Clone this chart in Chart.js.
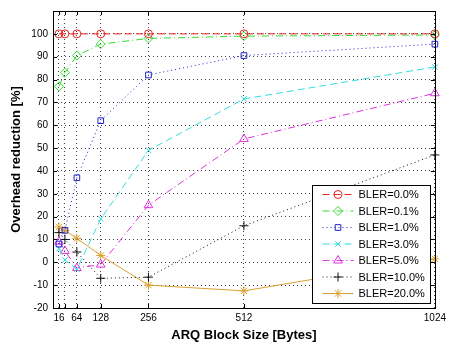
<!DOCTYPE html>
<html>
<head>
<meta charset="utf-8">
<script src="https://cdn.jsdelivr.net/npm/chart.js@4/dist/chart.umd.min.js"></script>
<style>
    html, body { margin: 0; padding: 0; background: #fff; }
    #wrap { width: 450px; height: 346px; }
</style>
</head>
<body>
<div id="wrap"><canvas id="chart" width="450" height="346"></canvas></div>
<script>
// ARQ block sizes (x) and overhead reduction values (%) per BLER
const blockSizes = [16, 32, 64, 128, 256, 512, 1024];
const bler00 = [100, 100, 100, 100, 100, 100, 100];
const bler01 = [77, 83, 90.5, 95.5, 98, 99, 99.5];
const bler1 = [8, 14, 37, 62, 82, 90.5, 95.5];
const bler3 = [6, 1, -3, 19, 49, 71.5, 85.5];
const bler5 = [9, 5, -2.5, -1, 25, 54, 74];
const bler10 = [13, 10, 4.5, -7, -6.5, 16, 47];
const bler20 = [15.5, 14, 10.5, 3, -10, -12.5, 1.5];
const seriesLabels = ['BLER=0.0%', 'BLER=0.1%', 'BLER=1.0%', 'BLER=3.0%', 'BLER=5.0%', 'BLER=10.0%', 'BLER=20.0%'];
const xTicks = [16, 32, 64, 128, 256, 512, 1024];
const xTickLabels = ['16', '', '64', '128', '256', '512', '1024'];

const seriesData = [bler00, bler01, bler1, bler3, bler5, bler10, bler20];
const styles = [
    { color: '#ee2222', dash: [7, 4], point: 'circle', radius: 4 },
    { color: '#33dd33', dash: [7, 3, 1, 3], point: 'rectRot', radius: 4.5 },
    { color: '#2222cc', dash: [1, 3], point: 'rect', radius: 4 },
    { color: '#33dddd', dash: [7, 4], point: 'crossRot', radius: 4 },
    { color: '#dd33dd', dash: [7, 3, 1, 3], point: 'triangle', radius: 5 },
    { color: '#111111', dash: [1, 3], point: 'cross', radius: 4.5 },
    { color: '#d9a030', dash: [], point: 'star', radius: 4.5 }
];

const datasets = seriesData.map((vals, i) => ({
    label: seriesLabels[i],
    data: blockSizes.map((x, j) => ({ x: x, y: vals[j] })),
    borderColor: styles[i].color,
    borderWidth: 1,
    borderDash: styles[i].dash,
    pointStyle: styles[i].point,
    pointRadius: styles[i].radius,
    pointBorderColor: styles[i].color,
    pointBackgroundColor: 'rgba(0,0,0,0)',
    pointBorderWidth: 1,
    fill: false,
    tension: 0,
    clip: false
}));

// box, inward ticks and legend drawn like the MATLAB figure
const matlabFrame = {
    id: 'matlabFrame',
    afterDraw(chart) {
        const ctx = chart.ctx;
        const a = chart.chartArea;
        const xs = chart.scales.x, ys = chart.scales.y;
        ctx.save();
        ctx.strokeStyle = '#000';
        ctx.lineWidth = 1;
        ctx.setLineDash([]);
        ctx.strokeRect(Math.round(a.left) + 0.5, Math.round(a.top) + 0.5,
            Math.round(a.right - a.left), Math.round(a.bottom - a.top));
        ctx.beginPath();
        ys.ticks.forEach(t => {
            const y = Math.round(ys.getPixelForValue(t.value)) + 0.5;
            ctx.moveTo(a.left, y); ctx.lineTo(a.left + 4, y);
            ctx.moveTo(a.right, y); ctx.lineTo(a.right - 4, y);
        });
        xs.ticks.forEach(t => {
            const x = Math.round(xs.getPixelForValue(t.value)) + 0.5;
            ctx.moveTo(x, a.bottom); ctx.lineTo(x, a.bottom - 4);
            ctx.moveTo(x, a.top); ctx.lineTo(x, a.top + 4);
        });
        ctx.stroke();

        // legend box
        const lx = 312.5, ly = 185.5, lw = 118, lh = 118, rowH = 16.5;
        ctx.fillStyle = '#fff';
        ctx.fillRect(lx, ly, lw, lh);
        ctx.strokeRect(lx, ly, lw, lh);
        ctx.font = '11px "Liberation Sans", Arial, sans-serif';
        ctx.textBaseline = 'middle';
        chart.data.datasets.forEach((ds, i) => {
            const y = ly + 9 + i * rowH;
            ctx.strokeStyle = ds.borderColor;
            ctx.setLineDash(ds.borderDash);
            ctx.beginPath();
            ctx.moveTo(lx + 10, y); ctx.lineTo(lx + 41, y);
            ctx.stroke();
            ctx.setLineDash([]);
            ctx.fillStyle = 'rgba(0,0,0,0)';
            Chart.helpers.drawPoint(ctx, {
                pointStyle: ds.pointStyle, radius: ds.pointRadius, rotation: 0, borderWidth: 1
            }, lx + 25.5, y);
            ctx.fillStyle = '#000';
            ctx.fillText(ds.label, lx + 46, y + 0.5);
        });
        ctx.restore();
    }
};

new Chart(document.getElementById('chart'), {
    type: 'line',
    data: { datasets: datasets },
    plugins: [matlabFrame],
    options: {
        responsive: false,
        animation: false,
        layout: { padding: { top: 6, right: 13, left: 0, bottom: 0 } },
        plugins: { legend: { display: false }, tooltip: { enabled: false } },
        scales: {
            x: {
                type: 'linear',
                min: 0,
                max: 1024,
                afterBuildTicks: scale => { scale.ticks = xTicks.map(v => ({ value: v })); },
                afterFit: scale => { scale.height = 38; },
                ticks: {
                    autoSkip: false,
                    maxRotation: 0,
                    padding: 4,
                    color: '#000',
                    font: { family: '"Liberation Sans", Arial, sans-serif', size: 10 },
                    callback: value => xTickLabels[xTicks.indexOf(value)]
                },
                grid: { color: 'rgba(0,0,0,0.75)', lineWidth: 1, drawTicks: false },
                border: { display: false, dash: [1, 3] },
                title: {
                    display: true,
                    text: 'ARQ Block Size [Bytes]',
                    color: '#000',
                    font: { family: '"Liberation Sans", Arial, sans-serif', size: 13, weight: 'bold' },
                    padding: { top: 0, bottom: 3 }
                }
            },
            y: {
                min: -20,
                max: 110,
                afterFit: scale => { scale.width = 53; },
                ticks: {
                    stepSize: 10,
                    padding: 5,
                    color: '#000',
                    font: { family: '"Liberation Sans", Arial, sans-serif', size: 10 },
                    callback: value => (value > 100 ? '' : value)
                },
                grid: { color: 'rgba(0,0,0,0.75)', lineWidth: 1, drawTicks: false },
                border: { display: false, dash: [1, 3] },
                title: {
                    display: true,
                    text: 'Overhead reduction [%]',
                    color: '#000',
                    font: { family: '"Liberation Sans", Arial, sans-serif', size: 13, weight: 'bold' },
                    padding: { top: 9, bottom: 0 }
                }
            }
        }
    }
});
</script>
</body>
</html>
